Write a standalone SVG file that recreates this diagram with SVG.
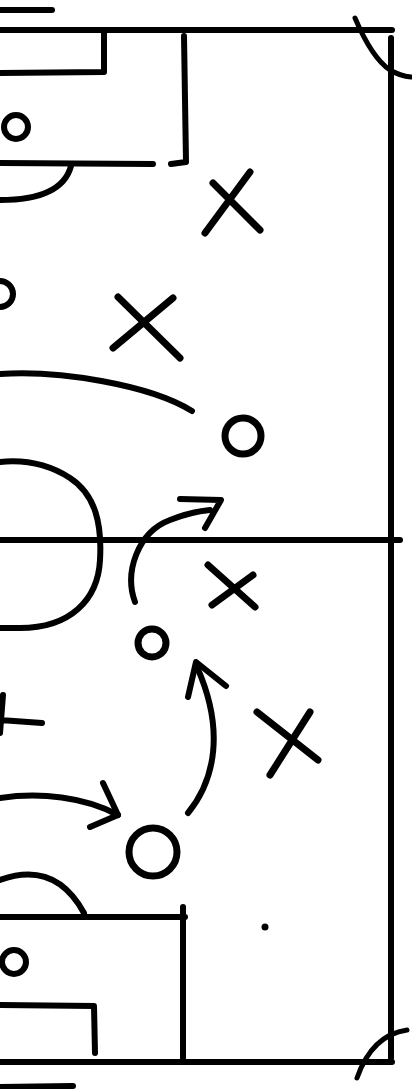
<svg xmlns="http://www.w3.org/2000/svg" width="412" height="1089" viewBox="0 0 412 1089">
<style>
.ln{fill:none;stroke:#000;stroke-width:6;stroke-linecap:round;stroke-linejoin:round}
.th{stroke-width:7}
.tn{stroke-width:5}
</style>
<rect width="412" height="1089" fill="#fff"/>
<g id="pitch">
<path class="ln" d="M0,10 L52,10"/>
<path class="ln" d="M0,30 L392,30"/>
<path class="ln" d="M391,38 L391,1058"/>
<path class="ln" d="M0,540 L400,540"/>
<path class="ln" d="M0,1062 L392,1062"/>
<path class="ln" d="M0,1087 L73,1086"/>
<path class="ln tn" d="M355,18 Q372,58 390,70 Q400,76 411,77"/>
<path class="ln tn" d="M357,1078 Q372,1035 407,1030"/>
</g>
<g id="top-box">
<path class="ln" d="M0,73 L104,72 L104,32"/>
<path class="ln" d="M184,36 L186,162 L171,164"/>
<path class="ln" d="M0,163 L153,164"/>
<path class="ln" d="M71,166 Q62,200 0,200"/>
<circle class="ln" cx="16" cy="127" r="12"/>
</g>
<g id="centre">
<path class="ln" d="M0,462 C20,460 45,462 70,478 C96,495 102,525 100,560 C98,600 70,628 20,628 L0,628"/>
</g>
<g id="bottom-box">
<path class="ln" d="M0,880 Q55,860 84,913"/>
<path class="ln" d="M0,917 L185,917"/>
<path class="ln" d="M183,907 L183,1058"/>
<path class="ln" d="M0,1005 L94,1006 L95,1053"/>
<circle class="ln" cx="14" cy="962" r="12"/>
<circle cx="265" cy="927" r="3.5" fill="#000"/>
</g>
<g id="players">
<path class="ln th" d="M213,183 L260,230 M250,172 L205,233"/>
<circle class="ln" cx="0" cy="294" r="13"/>
<path class="ln th" d="M118,297 L180,358 M173,298 L113,348"/>
<circle class="ln th" cx="243" cy="436" r="18"/>
<path class="ln th" d="M208,565 L255,607 M253,575 L212,605"/>
<circle class="ln th" cx="152" cy="643" r="14"/>
<path class="ln th" d="M257,712 L318,760 M310,712 L270,775"/>
<path class="ln" d="M3,695 L0,733 M0,720 L42,723"/>
<circle class="ln th" cx="153" cy="852" r="24"/>
</g>
<g id="connectors">
<path class="ln" d="M0,374 C60,370 150,385 192,411"/>
<path class="ln" d="M135,602 C124,572 138,532 170,520 Q190,512 210,510"/>
<path class="ln" d="M180,499 L221,500 L205,528"/>
<path class="ln" d="M188,813 C215,780 225,730 197,667"/>
<path class="ln" d="M188,697 L196,662 L226,686"/>
<path class="ln" d="M0,798 C40,792 85,797 118,815"/>
<path class="ln" d="M103,783 L118,815 L90,827"/>
</g>
</svg>
